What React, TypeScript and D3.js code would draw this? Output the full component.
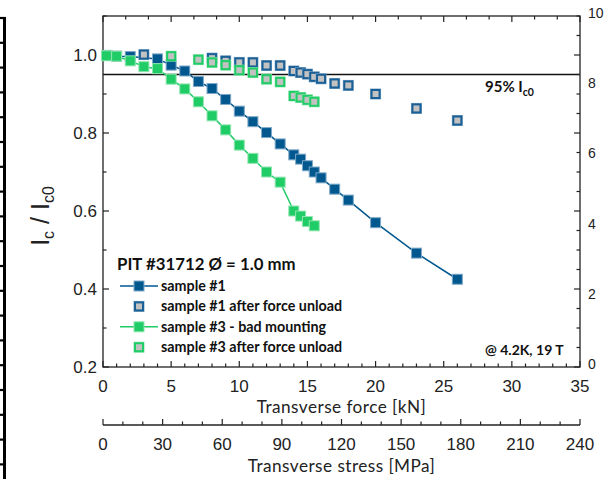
import React from "react";
import * as d3 from "d3";

// ---- data ----
const s1Force = [0.3, 1.0, 2.0, 4.0, 5.0, 6.0, 7.0, 8.0, 9.0, 10.0, 11.0, 12.0, 13.0, 14.0, 14.5, 15.0, 15.5, 16.0, 17.0, 18.0, 20.0, 23.0, 26.0];
const s1Ic = [0.999, 0.997, 0.996, 0.990, 0.974, 0.959, 0.932, 0.914, 0.886, 0.856, 0.829, 0.801, 0.772, 0.744, 0.733, 0.716, 0.700, 0.685, 0.656, 0.628, 0.570, 0.492, 0.425];

const s1uForce = [3.0, 8.0, 9.0, 10.0, 11.0, 12.0, 13.0, 14.0, 14.5, 15.0, 15.5, 16.0, 17.0, 18.0, 20.0, 23.0, 26.0];
const s1uIc = [1.001, 0.992, 0.985, 0.981, 0.981, 0.973, 0.973, 0.959, 0.955, 0.951, 0.944, 0.939, 0.927, 0.922, 0.900, 0.863, 0.832];

const s3Force = [0.25, 1.0, 2.0, 3.0, 4.0, 5.0, 6.0, 7.0, 8.0, 9.0, 10.0, 11.0, 12.0, 13.0, 14.0, 14.5, 15.0, 15.5];
const s3Ic = [0.998, 0.997, 0.985, 0.970, 0.965, 0.938, 0.913, 0.880, 0.844, 0.808, 0.769, 0.735, 0.700, 0.674, 0.600, 0.587, 0.573, 0.562];

const s3uForce = [5.0, 7.0, 8.0, 9.0, 10.0, 11.0, 12.0, 13.0, 14.0, 14.5, 15.0, 15.5];
const s3uIc = [0.997, 0.988, 0.981, 0.974, 0.961, 0.955, 0.938, 0.931, 0.895, 0.891, 0.885, 0.880];

const legendLabels = ["sample #1", "sample #1 after force unload", "sample #3 - bad mounting", "sample #3 after force unload"];
const xTicks = [0, 5, 10, 15, 20, 25, 30, 35];
const yTicks = [0.2, 0.4, 0.6, 0.8, 1.0];
const yRightTicks = [0, 2, 4, 6, 8, 10];
const stressTicks = [0, 30, 60, 90, 120, 150, 180, 210, 240];
const threshold = 0.95;

const BLUE = "#00588f";
const BLUE_EDGE = "#1a5f95";
const BLUE_HALO = "#7fa8c8";
const GREEN = "#1fcc66";
const GREEN_HALO = "#8fe6b0";
const GRAY = "#c2c2c2";

const W = 612;
const H = 479;
const L = 103, R = 580, T = 16, B = 367;
const STRESS_Y = 425;

const x = d3.scaleLinear().domain([0, 35]).range([L, R]);
const y = d3.scaleLinear().domain([0.2, 1.1]).range([B, T]);
const yR = d3.scaleLinear().domain([0, 10]).range([B, T]);
const xs = d3.scaleLinear().domain([0, 240]).range([L, R]);

const zip = (a: number[], b: number[]) => a.map((v, i) => [v, b[i]] as [number, number]);

const lineGen = d3.line<[number, number]>().x((d) => x(d[0])).y((d) => y(d[1]));

const TICK_FONT = "'Liberation Sans', Arial, sans-serif";
const TEXT_FONT = "Lato, 'Open Sans', sans-serif";

function FilledSq({ cx, cy, color, halo }: { cx: number; cy: number; color: string; halo: string }) {
  const s = 10;
  return <rect x={cx - s / 2} y={cy - s / 2} width={s} height={s} fill={color} stroke={halo} strokeWidth={1} />;
}
function OpenSq({ cx, cy, color, halo }: { cx: number; cy: number; color: string; halo: string }) {
  const s = 8;
  return (
    <g>
      <rect x={cx - s / 2 - 1} y={cy - s / 2 - 1} width={s + 2} height={s + 2} fill="none" stroke={halo} strokeWidth={1} />
      <rect x={cx - s / 2} y={cy - s / 2} width={s} height={s} fill={GRAY} stroke={color} strokeWidth={2} />
    </g>
  );
}

export default function App() {
  const s1 = zip(s1Force, s1Ic);
  const s1u = zip(s1uForce, s1uIc);
  const s3 = zip(s3Force, s3Ic);
  const s3u = zip(s3uForce, s3uIc);

  const xMinor = d3.range(0, 35.001, 1);
  const topTicks = d3.range(0, 35.001, 5 / 3);
  const yMinor = d3.range(0.2, 1.1001, 0.1);
  const yRightMarks = d3.range(0.2, 1.1001, 0.05);
  const stressMinor = d3.range(0, 240.001, 10);

  const decoTicks = d3.range(18, H, 24.8);

  const legX = 120;
  const legY0 = 286;
  const legDy = 20.4;

  return (
    <svg width={W} height={H} style={{ position: "absolute", left: 0, top: 0, background: "#fff" }}>
      <rect x={0} y={0} width={W} height={H} fill="#fff" />
      {/* decorative cropped bar on left edge */}
      <line x1={4.5} x2={4.5} y1={17} y2={H} stroke="#000" strokeWidth={3} />
      {decoTicks.map((t, i) => (
        <line key={"dk" + i} x1={0} x2={6} y1={t} y2={t} stroke="#000" strokeWidth={2.2} />
      ))}

      {/* 95% line */}
      <line x1={L} x2={R} y1={y(threshold)} y2={y(threshold)} stroke="#111" strokeWidth={1.3} />

      {/* frame */}
      <rect x={L} y={T} width={R - L} height={B - T} fill="none" stroke="#222" strokeWidth={1.3} />

      {/* bottom ticks */}
      {xMinor.map((v, i) => {
        const major = Math.abs(v % 5) < 1e-6;
        return <line key={"bx" + i} x1={x(v)} x2={x(v)} y1={B} y2={B - (major ? 6 : 3.5)} stroke="#222" strokeWidth={1.2} />;
      })}
      {/* top ticks */}
      {topTicks.map((v, i) => {
        const major = Math.abs(Math.round(v / 5) * 5 - v) < 1e-6;
        return <line key={"tx" + i} x1={x(v)} x2={x(v)} y1={T} y2={T + (major ? 6 : 3.5)} stroke="#222" strokeWidth={1.2} />;
      })}
      {/* left ticks */}
      {yMinor.map((v, i) => {
        const major = i % 2 === 0;
        return <line key={"ly" + i} x1={L} x2={L + (major ? 6 : 3.5)} y1={y(v)} y2={y(v)} stroke="#222" strokeWidth={1.2} />;
      })}
      {/* right ticks */}
      {yRightMarks.map((v, i) => {
        const major = i % 4 === 0;
        return <line key={"ry" + i} x1={R} x2={R - (major ? 6 : 3.5)} y1={y(v)} y2={y(v)} stroke="#222" strokeWidth={1.2} />;
      })}

      {/* left tick labels */}
      {yTicks.map((v) => (
        <text key={"yl" + v} x={L - 6} y={y(v)} dy="0.35em" textAnchor="end" fontFamily={TICK_FONT} fontSize={17} fill="#222">
          {v.toFixed(1)}
        </text>
      ))}
      {/* right tick labels */}
      {yRightTicks.map((v) => (
        <text key={"yr" + v} x={R + 8} y={yR(v) - 3} dy="0.35em" textAnchor="start" fontFamily={TICK_FONT} fontSize={14} fill="#222">
          {v}
        </text>
      ))}
      {/* bottom tick labels */}
      {xTicks.map((v) => (
        <text key={"xl" + v} x={x(v)} y={B + 25} textAnchor="middle" fontFamily={TICK_FONT} fontSize={17} fill="#222">
          {v}
        </text>
      ))}
      <text x={(L + R) / 2} y={B + 46} textAnchor="middle" fontFamily={TEXT_FONT} fontSize={17.2} letterSpacing={0.45} fill="#222">
        Transverse force [kN]
      </text>

      {/* stress axis */}
      <line x1={L} x2={R} y1={STRESS_Y} y2={STRESS_Y} stroke="#222" strokeWidth={1.3} />
      {stressMinor.map((v, i) => {
        const major = Math.abs(v % 30) < 1e-6;
        return <line key={"sx" + i} x1={xs(v)} x2={xs(v)} y1={STRESS_Y} y2={STRESS_Y - (major ? 6 : 3.5)} stroke="#222" strokeWidth={1.2} />;
      })}
      {stressTicks.map((v) => (
        <text key={"sl" + v} x={xs(v)} y={STRESS_Y + 25} textAnchor="middle" fontFamily={TICK_FONT} fontSize={17} fill="#222">
          {v}
        </text>
      ))}
      <text x={(L + R) / 2} y={STRESS_Y + 47} textAnchor="middle" fontFamily={TEXT_FONT} fontSize={17.2} letterSpacing={0.45} fill="#222">
        Transverse stress [MPa]
      </text>

      {/* y axis title */}
      <text transform={`translate(49, 216) rotate(-90)`} textAnchor="middle" fontFamily={TICK_FONT} fontSize={25} fill="#222">
        I<tspan fontSize={16} dy={5}>c</tspan>
        <tspan dy={-5}> / I</tspan>
        <tspan fontSize={16} dy={5}>c0</tspan>
      </text>

      {/* series: sample #1 */}
      <path d={lineGen(s1) || ""} fill="none" stroke={BLUE} strokeWidth={1.5} />
      {s1.map((d, i) => (
        <FilledSq key={"b" + i} cx={x(d[0])} cy={y(d[1])} color={BLUE} halo={BLUE_HALO} />
      ))}
      {/* series: sample #3 */}
      <path d={lineGen(s3) || ""} fill="none" stroke={GREEN} strokeWidth={1.5} />
      {s3.map((d, i) => (
        <FilledSq key={"g" + i} cx={x(d[0])} cy={y(d[1])} color={GREEN} halo={GREEN_HALO} />
      ))}
      {/* after unload */}
      {s1u.map((d, i) => (
        <OpenSq key={"bu" + i} cx={x(d[0])} cy={y(d[1])} color={BLUE_EDGE} halo={BLUE_HALO} />
      ))}
      {s3u.map((d, i) => (
        <OpenSq key={"gu" + i} cx={x(d[0])} cy={y(d[1])} color={GREEN} halo={GREEN_HALO} />
      ))}

      {/* annotations */}
      <text x={485} y={92} fontFamily={TEXT_FONT} fontWeight={700} fontSize={15} fill="#111">
        95% I<tspan fontSize={10.5} dy={4}>c0</tspan>
      </text>
      <text x={485} y={355} fontFamily={TEXT_FONT} fontWeight={700} fontSize={14} fill="#111">
        @ 4.2K, 19 T
      </text>
      <text x={117} y={270} fontFamily={TEXT_FONT} fontWeight={700} fontSize={16.8} fill="#111">
        PIT #31712 Ø = 1.0 mm
      </text>

      {/* legend */}
      {legendLabels.map((lab, i) => {
        const cy = legY0 + i * legDy;
        const isBlue = i < 2;
        const color = isBlue ? BLUE : GREEN;
        const halo = isBlue ? BLUE_HALO : GREEN_HALO;
        const withLine = i % 2 === 0;
        return (
          <g key={"lg" + i}>
            {withLine && <line x1={legX} x2={legX + 38} y1={cy} y2={cy} stroke={color} strokeWidth={1.5} />}
            {withLine ? (
              <FilledSq cx={legX + 19} cy={cy} color={color} halo={halo} />
            ) : (
              <OpenSq cx={legX + 19} cy={cy} color={isBlue ? BLUE_EDGE : GREEN} halo={halo} />
            )}
            <text x={legX + 41} y={cy} dy="0.35em" fontFamily={TEXT_FONT} fontWeight={700} fontSize={14.3} fill="#111">
              {lab}
            </text>
          </g>
        );
      })}
    </svg>
  );
}
